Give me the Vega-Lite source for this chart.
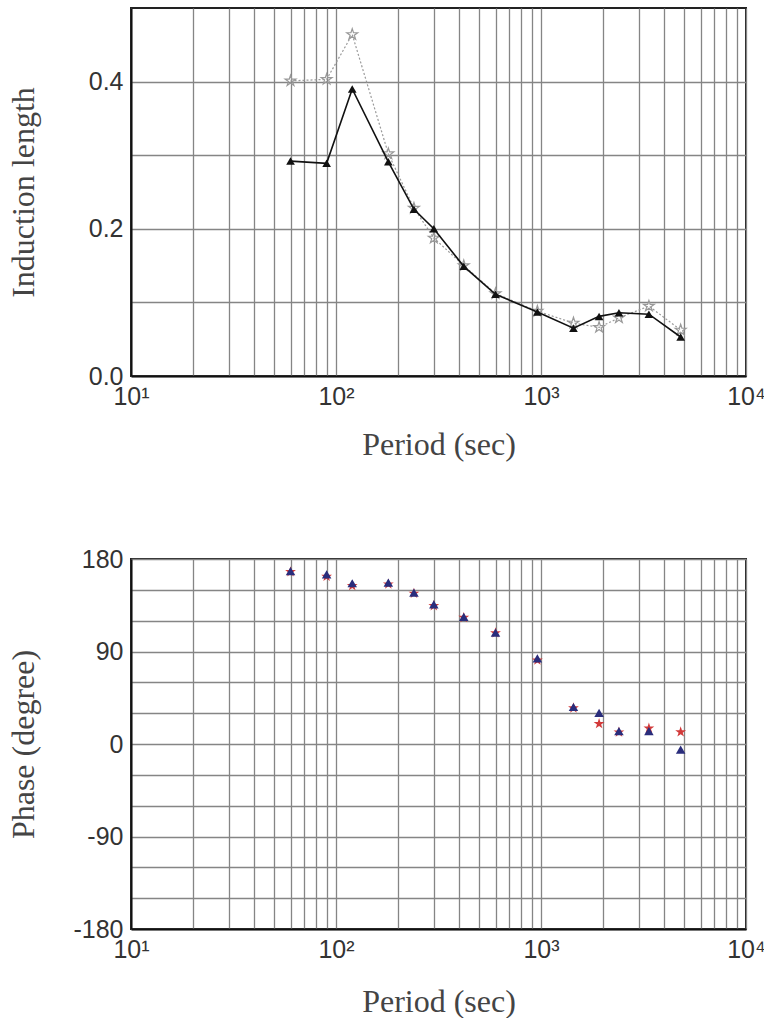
{
  "$schema": "https://vega.github.io/schema/vega-lite/v6.json",
  "background": "white",
  "padding": {"left": 6, "top": 7, "right": 0, "bottom": 0},
  "spacing": 183,
  "bounds": "flush",
  "config": {
    "view": {"stroke": "#222", "strokeWidth": 2},
    "axis": {
      "labelFont": "Liberation Sans", "labelFontSize": 25, "labelColor": "#333",
      "titleFont": "Liberation Serif", "titleFontSize": 32, "titleFontWeight": "normal", "titleColor": "#444",
      "gridColor": "#858585", "gridWidth": 1.3, "gridOpacity": 1,
      "domainColor": "#111", "domainWidth": 2, "tickSize": 0,
      "labelOverlap": false, "labelBound": false, "labelFlush": false
    }
  },
  "datasets": {
    "ind": [
      {"period": 60, "series": "A", "value": 0.292},
      {"period": 90, "series": "A", "value": 0.289},
      {"period": 120, "series": "A", "value": 0.390},
      {"period": 180, "series": "A", "value": 0.291},
      {"period": 240, "series": "A", "value": 0.2265},
      {"period": 300, "series": "A", "value": 0.200},
      {"period": 420, "series": "A", "value": 0.149},
      {"period": 600, "series": "A", "value": 0.111},
      {"period": 960, "series": "A", "value": 0.087},
      {"period": 1440, "series": "A", "value": 0.065},
      {"period": 1920, "series": "A", "value": 0.081},
      {"period": 2400, "series": "A", "value": 0.086},
      {"period": 3360, "series": "A", "value": 0.084},
      {"period": 4800, "series": "A", "value": 0.053},
      {"period": 60, "series": "B", "value": 0.401},
      {"period": 90, "series": "B", "value": 0.403},
      {"period": 120, "series": "B", "value": 0.464},
      {"period": 180, "series": "B", "value": 0.302},
      {"period": 240, "series": "B", "value": 0.228},
      {"period": 300, "series": "B", "value": 0.1875},
      {"period": 420, "series": "B", "value": 0.150},
      {"period": 600, "series": "B", "value": 0.112},
      {"period": 960, "series": "B", "value": 0.088},
      {"period": 1440, "series": "B", "value": 0.072},
      {"period": 1920, "series": "B", "value": 0.066},
      {"period": 2400, "series": "B", "value": 0.079},
      {"period": 3360, "series": "B", "value": 0.095},
      {"period": 4800, "series": "B", "value": 0.0625}
    ],
    "phase": [
      {"period": 60, "series": "red", "value": 167.5},
      {"period": 90, "series": "red", "value": 163},
      {"period": 120, "series": "red", "value": 154},
      {"period": 180, "series": "red", "value": 155.5},
      {"period": 240, "series": "red", "value": 146.5},
      {"period": 300, "series": "red", "value": 134.5},
      {"period": 420, "series": "red", "value": 123},
      {"period": 600, "series": "red", "value": 108},
      {"period": 960, "series": "red", "value": 81.5},
      {"period": 1440, "series": "red", "value": 35},
      {"period": 1920, "series": "red", "value": 19.7},
      {"period": 2400, "series": "red", "value": 11.5},
      {"period": 3360, "series": "red", "value": 15.3},
      {"period": 4800, "series": "red", "value": 11.7},
      {"period": 60, "series": "blue", "value": 168.3},
      {"period": 90, "series": "blue", "value": 165.1},
      {"period": 120, "series": "blue", "value": 156.4},
      {"period": 180, "series": "blue", "value": 157},
      {"period": 240, "series": "blue", "value": 147.2},
      {"period": 300, "series": "blue", "value": 135.9},
      {"period": 420, "series": "blue", "value": 123.6},
      {"period": 600, "series": "blue", "value": 108.3},
      {"period": 960, "series": "blue", "value": 83.4},
      {"period": 1440, "series": "blue", "value": 36},
      {"period": 1920, "series": "blue", "value": 30.2},
      {"period": 2400, "series": "blue", "value": 12.6},
      {"period": 3360, "series": "blue", "value": 12.6},
      {"period": 4800, "series": "blue", "value": -5.5}
    ]
  },
  "vconcat": [
    {
      "width": 615,
      "height": 368,
      "data": {"name": "ind"},
      "encoding": {
        "x": {
          "field": "period", "type": "quantitative",
          "scale": {"type": "log", "domain": [10, 10000], "nice": false},
          "axis": {
            "title": "Period (sec)",
            "values": [10,20,30,40,50,60,70,80,90,100,200,300,400,500,600,700,800,900,1000,2000,3000,4000,5000,6000,7000,8000,9000,10000],
            "labelExpr": "datum.value == 10 ? '10¹' : datum.value == 100 ? '10²' : datum.value == 1000 ? '10³' : datum.value == 10000 ? '10⁴' : ''",
            "labelPadding": 8,
            "titleBaseline": "middle", "titleY": 68
          }
        },
        "y": {
          "field": "value", "type": "quantitative",
          "scale": {"domain": [0, 0.5], "nice": false, "zero": false},
          "axis": {
            "title": "Induction length",
            "values": [0, 0.1, 0.2, 0.3, 0.4],
            "labelExpr": "datum.value == 0 ? '0.0' : datum.value == 0.2 ? '0.2' : datum.value == 0.4 ? '0.4' : ''",
            "labelPadding": 8,
            "titleBaseline": "middle", "titleX": -108
          }
        }
      },
      "layer": [
        {
          "transform": [{"filter": "datum.series == 'B'"}],
          "mark": {"type": "line", "color": "#999", "strokeWidth": 1.2, "strokeDash": [2, 2]},
          "encoding": {}
        },
        {
          "transform": [{"filter": "datum.series == 'B'"}],
          "mark": {"type": "point", "shape": "M0,-1L0.2245,-0.309L0.951,-0.309L0.363,0.118L0.588,0.809L0,0.382L-0.588,0.809L-0.363,0.118L-0.951,-0.309L-0.2245,-0.309Z", "filled": false, "color": "#999", "size": 130, "strokeWidth": 1.2, "opacity": 1}
        },
        {
          "transform": [{"filter": "datum.series == 'A'"}],
          "mark": {"type": "line", "color": "#111", "strokeWidth": 1.6},
          "encoding": {}
        },
        {
          "transform": [{"filter": "datum.series == 'A'"}],
          "mark": {"type": "point", "shape": "triangle-up", "filled": true, "color": "#111", "size": 75, "opacity": 1}
        }
      ]
    },
    {
      "width": 615,
      "height": 370,
      "data": {"name": "phase"},
      "encoding": {
        "x": {
          "field": "period", "type": "quantitative",
          "scale": {"type": "log", "domain": [10, 10000], "nice": false},
          "axis": {
            "title": "Period (sec)",
            "values": [10,20,30,40,50,60,70,80,90,100,200,300,400,500,600,700,800,900,1000,2000,3000,4000,5000,6000,7000,8000,9000,10000],
            "labelExpr": "datum.value == 10 ? '10¹' : datum.value == 100 ? '10²' : datum.value == 1000 ? '10³' : datum.value == 10000 ? '10⁴' : ''",
            "labelPadding": 8,
            "titleBaseline": "middle", "titleY": 72
          }
        },
        "y": {
          "field": "value", "type": "quantitative",
          "scale": {"domain": [-180, 180], "nice": false, "zero": false},
          "axis": {
            "title": "Phase (degree)",
            "values": [-180, -150, -120, -90, -60, -30, 0, 30, 60, 90, 120, 150, 180],
            "labelExpr": "datum.value % 90 == 0 ? '' + datum.value : ''",
            "labelPadding": 8,
            "titleBaseline": "middle", "titleX": -108
          }
        }
      },
      "layer": [
        {
          "transform": [{"filter": "datum.series == 'red'"}],
          "mark": {"type": "point", "shape": "M0,-1L0.2245,-0.309L0.951,-0.309L0.363,0.118L0.588,0.809L0,0.382L-0.588,0.809L-0.363,0.118L-0.951,-0.309L-0.2245,-0.309Z", "filled": true, "color": "#d23a3a", "size": 130, "opacity": 1}
        },
        {
          "transform": [{"filter": "datum.series == 'blue'"}],
          "mark": {"type": "point", "shape": "triangle-up", "filled": true, "color": "#2a2d7c", "size": 90, "opacity": 1}
        }
      ]
    }
  ]
}
